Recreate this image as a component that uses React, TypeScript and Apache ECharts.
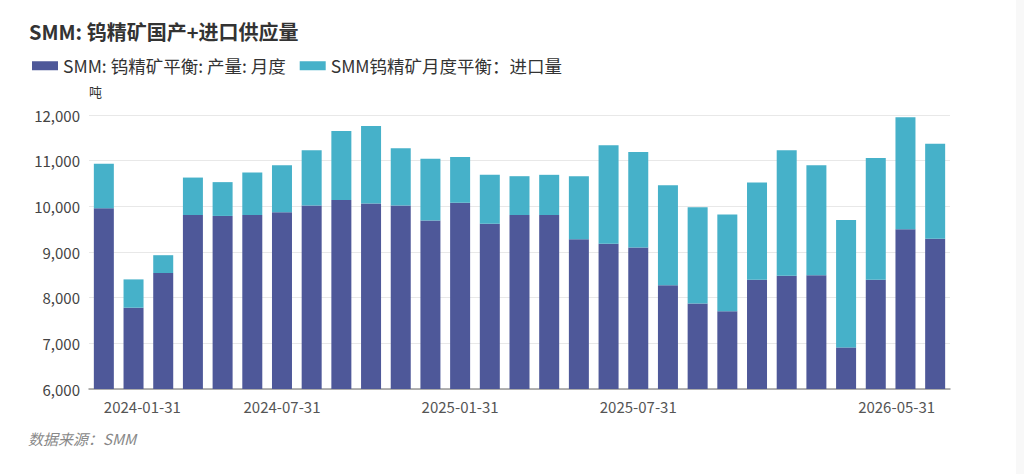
import React, { useEffect, useRef } from "react";
import * as echarts from "echarts";

const categories = [
  "2024-01-31", "2024-02-29", "2024-03-31", "2024-04-30", "2024-05-31", "2024-06-30",
  "2024-07-31", "2024-08-31", "2024-09-30", "2024-10-31", "2024-11-30", "2024-12-31",
  "2025-01-31", "2025-02-28", "2025-03-31", "2025-04-30", "2025-05-31", "2025-06-30",
  "2025-07-31", "2025-08-31", "2025-09-30", "2025-10-31", "2025-11-30", "2025-12-31",
  "2026-01-31", "2026-02-28", "2026-03-31", "2026-04-30", "2026-05-31",
];

const production = [
  9960, 7780, 8540, 9810, 9790, 9810, 9870, 10020, 10140, 10060, 10020, 9690,
  10080, 9620, 9810, 9810, 9280, 9180, 9100, 8270, 7870, 7700, 8390, 8480,
  8490, 6910, 8390, 9500, 9290,
];

const imports = [
  970, 620, 390, 820, 740, 930, 1030, 1210, 1510, 1700, 1250, 1350,
  1000, 1070, 850, 880, 1380, 2160, 2090, 2190, 2110, 2120, 2130, 2750,
  2410, 2790, 2670, 2450, 2080,
];

const shownLabelIndexes = [0, 6, 12, 18, 28];

const seriesNames = ["SMM: 钨精矿平衡: 产量: 月度", "SMM钨精矿月度平衡：进口量"];
const titleText = "SMM: 钨精矿国产+进口供应量";
const sourceText = "数据来源：SMM";

const FONT = "'Noto Sans CJK SC', 'Noto Sans', sans-serif";

export default function App() {
  const ref = useRef<HTMLDivElement>(null);

  useEffect(() => {
    document.body.style.margin = "0";
    if (!ref.current) return;
    const chart = echarts.init(ref.current, undefined, { renderer: "svg" });
    chart.setOption({
      animation: false,
      backgroundColor: "#ffffff",
      textStyle: { fontFamily: FONT },
      title: {
        text: titleText,
        left: 24,
        top: 16,
        textStyle: { fontSize: 20, fontWeight: "bold", color: "#333", fontFamily: FONT },
      },
      legend: {
        left: 27,
        top: 52,
        itemWidth: 26,
        itemHeight: 9,
        itemGap: 14,
        icon: "rect",
        textStyle: { fontSize: 17.5, color: "#333", fontFamily: FONT },
        data: seriesNames,
      },
      grid: { left: 89, right: 74, top: 115, bottom: 85, containLabel: false },
      xAxis: {
        type: "category",
        data: categories,
        axisTick: { show: false },
        axisLine: { lineStyle: { color: "#999", width: 1.5 } },
        axisLabel: {
          fontSize: 15,
          color: "#555",
          margin: 10,
          interval: (i: number) => shownLabelIndexes.includes(i),
          alignMinLabel: "left",
          alignMaxLabel: "right",
        },
      },
      yAxis: {
        type: "value",
        min: 6000,
        max: 12000,
        interval: 1000,
        name: "吨",
        nameGap: 17,
        nameTextStyle: { fontSize: 13, color: "#333", align: "left" },
        axisLine: { show: false },
        axisTick: { show: false },
        axisLabel: {
          fontSize: 15,
          color: "#444",
          margin: 9,
          formatter: (v: number) => v.toLocaleString("en-US"),
        },
        splitLine: { lineStyle: { color: "#e8e8e8" } },
      },
      series: [
        {
          name: seriesNames[0],
          type: "bar",
          stack: "total",
          barWidth: 20,
          data: production,
          itemStyle: { color: "#4e5899" },
        },
        {
          name: seriesNames[1],
          type: "bar",
          stack: "total",
          barWidth: 20,
          data: imports,
          itemStyle: { color: "#46b1c9" },
        },
      ],
      graphic: [
        {
          type: "rect",
          left: 1016,
          top: 0,
          shape: { width: 8, height: 474 },
          style: { fill: "#f8f8f8" },
          silent: true,
        },
        {
          type: "text",
          left: 28,
          top: 431,
          style: {
            text: sourceText,
            fontSize: 15,
            fontStyle: "italic",
            fill: "#888",
            fontFamily: FONT,
          },
        },
      ],
    });
    return () => chart.dispose();
  }, []);

  return <div ref={ref} style={{ width: 1024, height: 474 }} />;
}
